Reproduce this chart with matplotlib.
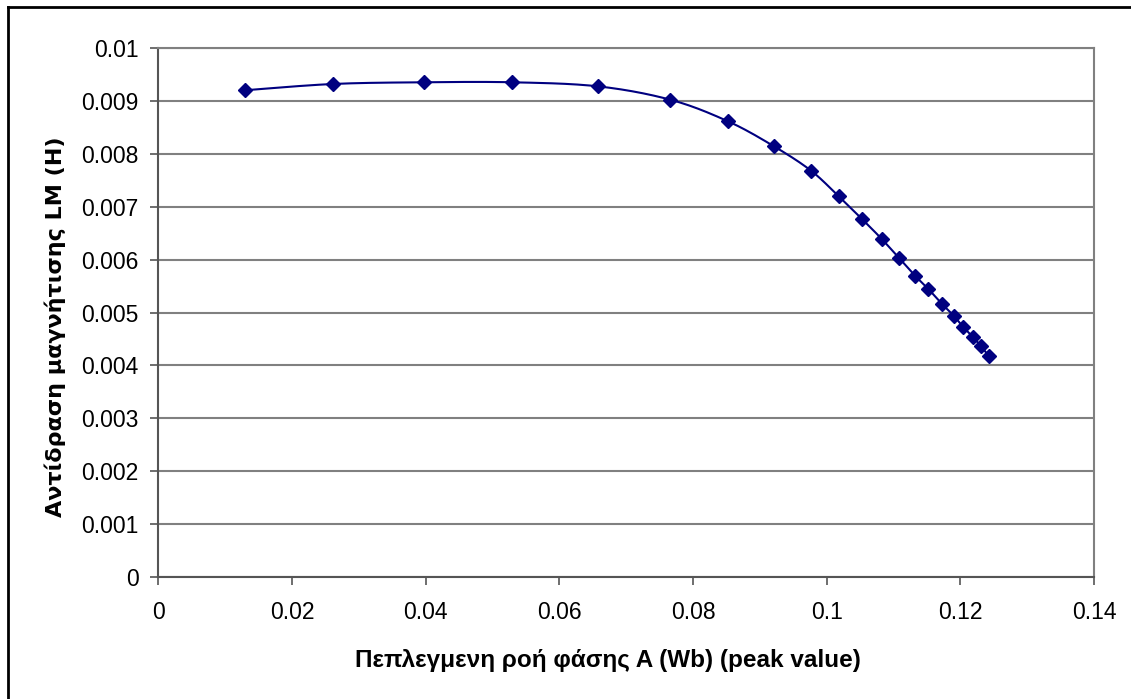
import numpy as np
import matplotlib.pyplot as plt
from matplotlib.lines import Line2D

plt.rcParams['font.family'] = ['Liberation Sans', 'DejaVu Sans']

# Flux linkage of phase A (peak) and magnetising inductance LM
flux = [0.01297, 0.02614, 0.03971, 0.05297, 0.06574, 0.07661, 0.08524,
        0.09212, 0.09766, 0.10180, 0.10533, 0.10824, 0.11087, 0.11322,
        0.11521, 0.11726, 0.11901, 0.12044, 0.12185, 0.12305, 0.12424]
lm = [0.009196, 0.009315, 0.009347, 0.009347, 0.009271, 0.009018, 0.008610,
      0.008138, 0.007678, 0.007194, 0.006760, 0.006388, 0.006023, 0.005695,
      0.005444, 0.005161, 0.004940, 0.004726, 0.004543, 0.004368, 0.004184]

x_ticks = [0, 0.02, 0.04, 0.06, 0.08, 0.1, 0.12, 0.14]
x_labels = ['0', '0.02', '0.04', '0.06', '0.08', '0.1', '0.12', '0.14']
y_ticks = [0, 0.001, 0.002, 0.003, 0.004, 0.005, 0.006, 0.007, 0.008, 0.009, 0.01]
y_labels = ['0', '0.001', '0.002', '0.003', '0.004', '0.005', '0.006',
            '0.007', '0.008', '0.009', '0.01']


def smooth_curve(xs, ys, n=20):
    # Catmull-Rom spline through the points, like a smoothed line
    p = np.column_stack([xs, ys])
    p = np.vstack([p[0], p, p[-1]])
    out = []
    t = np.linspace(0, 1, n, endpoint=False)[:, None]
    for i in range(1, len(p) - 2):
        p0, p1, p2, p3 = p[i - 1], p[i], p[i + 1], p[i + 2]
        seg = 0.5 * ((2 * p1) + (-p0 + p2) * t
                     + (2 * p0 - 5 * p1 + 4 * p2 - p3) * t ** 2
                     + (-p0 + 3 * p1 - 3 * p2 + p3) * t ** 3)
        out.append(seg)
    out.append(p[-2][None, :])
    out = np.vstack(out)
    return out[:, 0], out[:, 1]


W, H = 1131, 699
fig = plt.figure(figsize=(W / 100, H / 100), dpi=100)
ax = fig.add_axes([158.3 / W, 1 - 577.3 / H, (1094 - 158.3) / W, (577.3 - 47.7) / H])

sx, sy = smooth_curve(flux, lm)
ax.plot(sx, sy, color='#000080', lw=1.5, zorder=3)
ax.plot(flux, lm, ls='none', marker='D', ms=7.5, color='#000080', zorder=4)

ax.set_xlim(0, 0.14)
ax.set_ylim(0, 0.01)
ax.set_xticks(x_ticks)
ax.set_xticklabels(x_labels)
ax.set_yticks(y_ticks)
ax.set_yticklabels(y_labels)
ax.tick_params(labelsize=16.5, length=6, width=1.2, color='#555555')
ax.tick_params(axis='x', pad=11)
ax.tick_params(axis='y', pad=8)
ax.grid(axis='y', color='#808080', lw=1.5)
ax.set_axisbelow(True)

for side in ['top', 'right']:
    ax.spines[side].set_color('#808080')
    ax.spines[side].set_linewidth(1.5)
for side in ['left', 'bottom']:
    ax.spines[side].set_color('#555555')
    ax.spines[side].set_linewidth(1.5)

# axis titles
fig.text(608 / W, 1 - 660 / H, 'Πεπλεγμενη ροή φάσης A (Wb) (peak value)',
         fontsize=17.5, fontweight='bold', ha='center', va='center')
fig.text(55 / W, 1 - 327 / H, 'Αντίδραση μαγνήτισης LM (H)', family='DejaVu Sans',
         fontsize=16, fontweight='bold', rotation=90, ha='center', va='center')

# outer chart border (top and left edges)
fig.add_artist(Line2D([8 / W, 8 / W], [0, 1 - 7 / H], color='black', lw=2,
                      transform=fig.transFigure))
fig.add_artist(Line2D([8 / W, 1], [1 - 7 / H, 1 - 7 / H], color='black', lw=2,
                      transform=fig.transFigure))

fig.savefig('out.png', dpi=100)
